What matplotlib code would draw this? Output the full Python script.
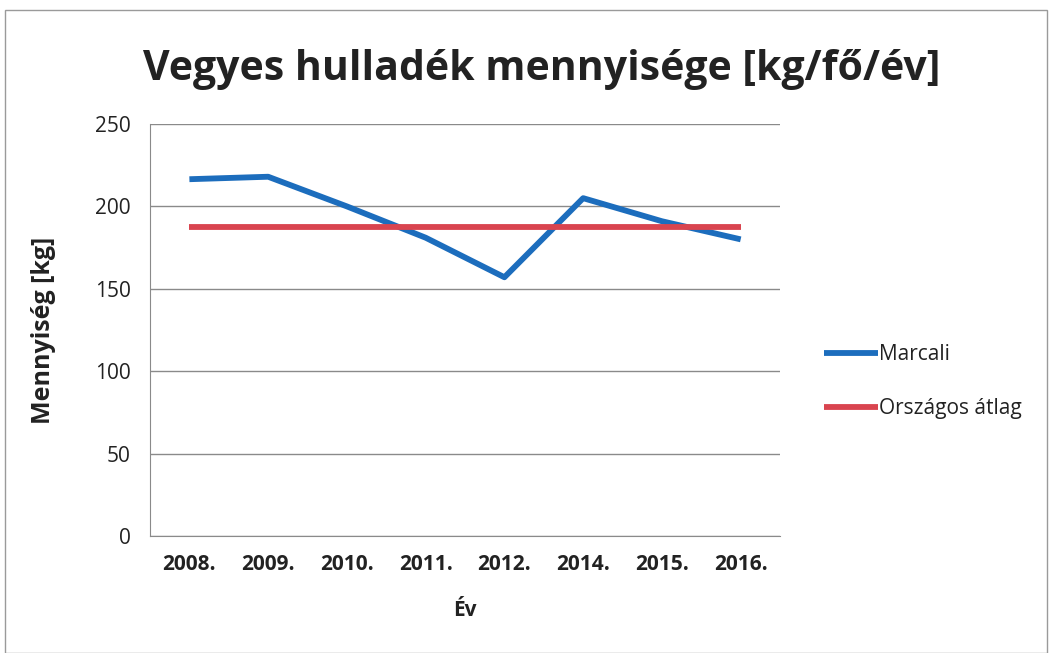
import matplotlib.pyplot as plt
from matplotlib.patches import Rectangle

plt.rcParams['font.family'] = ['Open Sans', 'DejaVu Sans']

years = ["2008.", "2009.", "2010.", "2011.", "2012.", "2014.", "2015.", "2016."]
marcali = [216.5, 218, 200, 181, 157, 205, 191, 180]
orszagos = [187.5, 187.5, 187.5, 187.5, 187.5, 187.5, 187.5, 187.5]
yticks = [0, 50, 100, 150, 200, 250]

fig = plt.figure(figsize=(10.52, 6.53), dpi=100)
ax = fig.add_axes([0.1426, 0.1792, 0.5989, 0.6309])

x = list(range(len(years)))
ax.plot(x, marcali, color='#1c6dbd', lw=4.2, label='Marcali', solid_capstyle='butt')
ax.plot(x, orszagos, color='#d9444f', lw=4.2, label='Országos átlag', solid_capstyle='butt')

ax.set_xlim(-0.5, len(years) - 0.5)
ax.set_ylim(0, 250)
ax.set_yticks(yticks)
ax.set_xticks(x)
ax.set_xticklabels(years, fontsize=15, fontweight='bold', color='#222222')
ax.tick_params(axis='y', labelsize=15, length=0, pad=14, labelcolor='#222222')
ax.tick_params(axis='x', length=0, pad=13)
ax.grid(axis='y', color='#8a8a8a', lw=1)
ax.set_axisbelow(True)
for s in ['top', 'right']:
    ax.spines[s].set_visible(False)
ax.spines['left'].set_color('#8a8a8a')
ax.spines['bottom'].set_color('#8a8a8a')

ax.set_xlabel('Év', fontsize=15, fontweight='bold', color='#222222', labelpad=18)
ax.set_ylabel('Mennyiség [kg]', fontsize=18, fontweight='bold', color='#222222', labelpad=28)

fig.text(0.515, 0.893, 'Vegyes hulladék mennyisége [kg/fő/év]', ha='center', va='center',
         fontsize=29.5, fontweight='bold', color='#222222')

leg = ax.legend(loc='center left', bbox_to_anchor=(1.04, 0.375), frameon=False,
                fontsize=15, handlelength=2.6, handletextpad=0.05, labelspacing=1.6)
for t in leg.get_texts():
    t.set_color('#222222')

fig.patches.append(Rectangle((0.005, 0.0), 0.99, 0.985, transform=fig.transFigure,
                             fill=False, edgecolor='#9a9a9a', lw=1))

fig.savefig('out.png', dpi=100)
